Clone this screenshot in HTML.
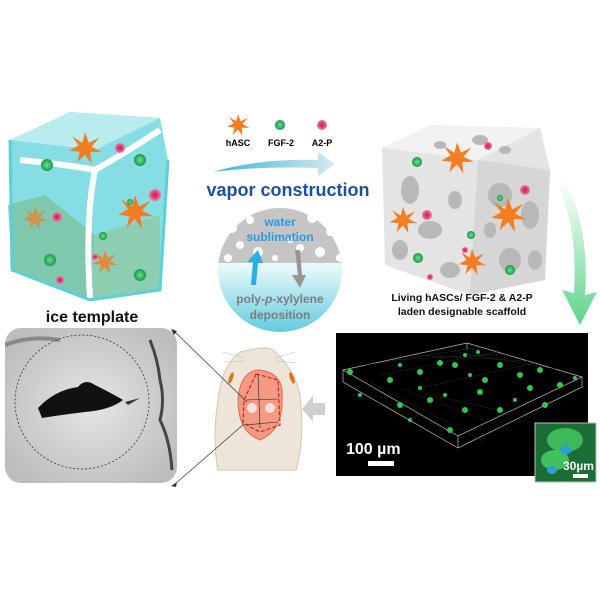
<!DOCTYPE html>
<html><head><meta charset="utf-8"><style>
body{margin:0;background:#fff;}
svg{display:block;font-family:"Liberation Sans",sans-serif;}
</style></head><body>
<svg width="600" height="600" viewBox="0 0 600 600">
<defs>
<linearGradient id="arr" x1="0" x2="1"><stop offset="0" stop-color="#3bb4d8"/><stop offset="1" stop-color="#d8e9ef"/></linearGradient>
<linearGradient id="garr" x1="0" y1="0" x2="0" y2="1"><stop offset="0" stop-color="#fff"/><stop offset="1" stop-color="#5fd38a"/></linearGradient>
<linearGradient id="water" x1="0" y1="0" x2="0" y2="1"><stop offset="0" stop-color="#eefbfd"/><stop offset="1" stop-color="#5cc9dd"/></linearGradient>
<radialGradient id="gr"><stop offset="0" stop-color="#6ee08a"/><stop offset="1" stop-color="#129a4a"/></radialGradient>
<radialGradient id="pk"><stop offset="0" stop-color="#d01050"/><stop offset="1" stop-color="#f07aa8"/></radialGradient>
<radialGradient id="gimg" cx="0.5" cy="0.5" r="0.6"><stop offset="0" stop-color="#e6e6e6"/><stop offset="1" stop-color="#bdbdbd"/></radialGradient>
<clipPath id="circ"><circle cx="280" cy="270" r="62"/></clipPath>
<clipPath id="gbox"><rect x="5" y="328" width="172" height="155" rx="16"/></clipPath>
<g id="star"><polygon points="0,-12 3,-4 11,-8 5,-1 13,3 4,3 5,12 0,5 -6,11 -4,3 -12,2 -5,-2 -10,-9 -2,-4" fill="#f57c20"/></g>
</defs>

<!-- ice cube -->
<polygon points="10,140 70,112 160,118 168,160 160,290 90,300 12,270" fill="#86dde3"/>
<polygon points="12,270 90,300 95,235 45,195 8,205" fill="#7cc4a0" opacity="0.8"/>
<polygon points="95,235 160,215 160,290 90,300" fill="#8ecaa6" opacity="0.8"/>
<polygon points="10,140 70,112 160,118 95,150" fill="#b9ecef"/>
<path d="M20,160 Q70,165 95,170 Q130,150 160,130 M95,170 Q85,220 90,298" stroke="#fff" stroke-width="6" fill="none"/>
<path d="M10,140 L12,270 L90,300 L160,290 L168,160" stroke="#5ccfd8" stroke-width="3" fill="none"/>
<use href="#star" transform="translate(85,148) scale(1.3)"/>
<use href="#star" transform="translate(135,212) scale(1.4)"/>
<use href="#star" transform="translate(35,218) scale(1)" opacity="0.7"/>
<use href="#star" transform="translate(105,262) scale(1)" opacity="0.8"/>
<circle cx="47" cy="165" r="6" fill="url(#gr)"/><circle cx="140" cy="160" r="6" fill="url(#gr)"/>
<circle cx="130" cy="202" r="3" fill="url(#gr)"/><circle cx="103" cy="236" r="4" fill="url(#gr)"/>
<circle cx="50" cy="260" r="6" fill="url(#gr)"/><circle cx="140" cy="275" r="6" fill="url(#gr)"/>
<circle cx="120" cy="148" r="5" fill="url(#pk)"/><circle cx="155" cy="195" r="6" fill="url(#pk)"/>
<circle cx="57" cy="217" r="5" fill="url(#pk)"/><circle cx="95" cy="257" r="3" fill="url(#pk)"/>
<circle cx="60" cy="280" r="4" fill="url(#pk)"/>
<text x="92" y="322" font-size="16" font-weight="bold" text-anchor="middle" fill="#111">ice template</text>

<!-- legend -->
<use href="#star" transform="translate(238,125) scale(0.9)"/>
<circle cx="280" cy="125" r="5" fill="url(#gr)"/><circle cx="322" cy="125" r="5" fill="url(#pk)"/>
<text x="238" y="146" font-size="9" font-weight="bold" text-anchor="middle">hASC</text>
<text x="281" y="146" font-size="9" font-weight="bold" text-anchor="middle">FGF-2</text>
<text x="322" y="146" font-size="9" font-weight="bold" text-anchor="middle">A2-P</text>
<path d="M213,172 Q260,158 318,160 L318,152 L335,164 L318,176 L318,168 Q260,166 213,172Z" fill="url(#arr)"/>
<text x="288" y="196" font-size="18" font-weight="bold" text-anchor="middle" fill="#1e4fa8">vapor construction</text>

<!-- circle -->
<g clip-path="url(#circ)">
<rect x="218" y="205" width="124" height="60" fill="#c5c5c5"/>
<g fill="#fff"><circle cx="232" cy="228" r="5"/><circle cx="250" cy="220" r="4"/><circle cx="312" cy="218" r="5"/><circle cx="330" cy="232" r="4"/><circle cx="240" cy="245" r="4"/><circle cx="258" cy="252" r="5"/><circle cx="300" cy="248" r="4"/><circle cx="320" cy="252" r="5"/><circle cx="228" cy="258" r="4"/><circle cx="340" cy="258" r="4"/><circle cx="275" cy="258" r="3"/><circle cx="290" cy="240" r="3"/></g>
<rect x="218" y="263" width="124" height="72" fill="url(#water)"/>
</g>
<text x="280" y="226" font-size="12" font-weight="bold" text-anchor="middle" fill="#2a9ae0">water</text>
<text x="280" y="241" font-size="12" font-weight="bold" text-anchor="middle" fill="#2a9ae0">sublimation</text>
<path d="M251,285 L253,262 L247,262 L258,250 L263,263 L258,263 L256,285Z" fill="#28b0e6"/>
<path d="M295,250 L298,275 L292,275 L300,288 L306,275 L302,275 L300,250Z" fill="#9a9490"/>
<text x="280" y="303" font-size="12" font-weight="bold" text-anchor="middle" fill="#7c7c7c">poly-<tspan font-style="italic">p</tspan>-xylylene</text>
<text x="280" y="319" font-size="12" font-weight="bold" text-anchor="middle" fill="#7c7c7c">deposition</text>

<!-- scaffold cube -->
<polygon points="382,148 430,125 540,128 550,170 545,280 470,295 385,265" fill="#e4e4e4"/>
<polygon points="382,148 430,125 540,128 478,160" fill="#f2f2f2"/>
<polygon points="478,160 550,170 545,280 470,295" fill="#d6d6d6"/>
<g fill="#b8b8b8"><ellipse cx="410" cy="190" rx="9" ry="14"/><ellipse cx="430" cy="230" rx="12" ry="9"/><ellipse cx="400" cy="250" rx="8" ry="10"/><ellipse cx="450" cy="270" rx="10" ry="8"/><ellipse cx="455" cy="200" rx="7" ry="9"/><ellipse cx="500" cy="195" rx="12" ry="12"/><ellipse cx="530" cy="215" rx="9" ry="14"/><ellipse cx="510" cy="260" rx="11" ry="12"/><ellipse cx="490" cy="230" rx="6" ry="8"/><ellipse cx="535" cy="260" rx="7" ry="10"/><ellipse cx="480" cy="140" rx="8" ry="5"/><ellipse cx="505" cy="150" rx="6" ry="4"/><ellipse cx="440" cy="145" rx="6" ry="4"/></g>
<use href="#star" transform="translate(457,158) scale(1.3)"/>
<use href="#star" transform="translate(403,220) scale(1.1)"/>
<use href="#star" transform="translate(508,215) scale(1.4)"/>
<use href="#star" transform="translate(472,262) scale(1.1)"/>
<circle cx="417" cy="162" r="5" fill="url(#gr)"/><circle cx="500" cy="198" r="3" fill="url(#gr)"/><circle cx="471" cy="235" r="4" fill="url(#gr)"/><circle cx="418" cy="258" r="5" fill="url(#gr)"/><circle cx="510" cy="270" r="5" fill="url(#gr)"/>
<circle cx="488" cy="146" r="4" fill="url(#pk)"/><circle cx="525" cy="190" r="5" fill="url(#pk)"/><circle cx="427" cy="215" r="5" fill="url(#pk)"/><circle cx="465" cy="250" r="3" fill="url(#pk)"/><circle cx="430" cy="277" r="3" fill="url(#pk)"/>
<text x="462" y="301" font-size="10.5" font-weight="bold" text-anchor="middle" fill="#111">Living hASCs/ FGF-2 &amp; A2-P</text>
<text x="462" y="315" font-size="10.5" font-weight="bold" text-anchor="middle" fill="#111">laden designable scaffold</text>
<path d="M565,180 Q590,230 585,295 L597,292 L580,325 L562,290 L574,293 Q578,230 558,185Z" fill="url(#garr)"/>

<!-- dark panel -->
<rect x="336" y="333" width="252" height="143" fill="#000"/>
<g stroke="#bbb" stroke-width="0.7" fill="none">
<polygon points="343,370 467,343 582,377 458,436"/>
<path d="M343,370 L343,382 L458,448 L582,387 L582,377 M458,436 L458,448 M467,343 L467,350"/>
</g>
<g stroke="#333" stroke-width="0.4">
<path d="M365,365 L480,347 M390,360 L505,354 M415,355 L530,361 M440,349 L556,369 M370,382 L485,442 M400,388 L510,430 M430,395 L535,418 M380,375 L500,351 M420,388 L540,362"/>
</g>
<g fill="#2ec84a">
<circle cx="350" cy="372" r="3"/><circle cx="390" cy="380" r="3"/><circle cx="400" cy="365" r="2"/><circle cx="420" cy="372" r="3"/><circle cx="440" cy="363" r="3"/><circle cx="455" cy="365" r="3"/><circle cx="465" cy="355" r="2"/><circle cx="478" cy="352" r="2"/><circle cx="500" cy="365" r="3"/><circle cx="520" cy="375" r="3"/><circle cx="540" cy="370" r="3"/><circle cx="560" cy="385" r="3"/><circle cx="575" cy="378" r="2"/><circle cx="430" cy="400" r="3"/><circle cx="445" cy="395" r="2"/><circle cx="465" cy="410" r="3"/><circle cx="480" cy="392" r="3"/><circle cx="500" cy="410" r="3"/><circle cx="515" cy="400" r="2"/><circle cx="530" cy="388" r="3"/><circle cx="545" cy="405" r="3"/><circle cx="400" cy="405" r="3"/><circle cx="410" cy="420" r="2"/><circle cx="450" cy="430" r="3"/><circle cx="485" cy="380" r="3"/><circle cx="420" cy="388" r="2"/><circle cx="470" cy="375" r="2"/><circle cx="360" cy="395" r="2"/>
</g>
<text x="346" y="454" font-size="16" font-weight="bold" fill="#fff">100 µm</text>
<rect x="368" y="461" width="26" height="5" fill="#fff"/>
<rect x="535" y="423" width="61" height="59" fill="#1b6e36" stroke="#bbb" stroke-width="1"/>
<ellipse cx="565" cy="440" rx="18" ry="12" fill="#3fb85a"/><ellipse cx="555" cy="460" rx="14" ry="10" fill="#42c060"/>
<ellipse cx="566" cy="450" rx="6" ry="4" fill="#2aa0d8"/><ellipse cx="552" cy="470" rx="5" ry="4" fill="#2aa0d8"/>
<text x="563" y="470" font-size="12" font-weight="bold" fill="#fff">30µm</text>
<rect x="573" y="474" width="15" height="4" fill="#fff"/>

<!-- gray arrow -->
<polygon points="325,403 313,403 313,396 302,409 313,422 313,415 325,415" fill="#cfcfcf"/>

<!-- rat -->
<path d="M250,350 Q270,345 275,352 Q295,370 300,395 Q305,440 296,470 L218,470 Q212,440 218,400 Q222,365 240,352Z" fill="#ece5d8" stroke="#d0c6b4"/>
<g stroke="#bbb" stroke-width="0.6" fill="none"><path d="M245,358 L222,352 M245,361 L224,362 M275,358 L295,352 M275,361 L297,363"/></g>
<ellipse cx="231" cy="378" rx="2" ry="6" fill="#e0721e" transform="rotate(20 231 378)"/><ellipse cx="292" cy="378" rx="2" ry="6" fill="#e0721e" transform="rotate(-20 292 378)"/>
<path d="M258,370 Q285,372 282,400 Q283,430 260,440 Q238,432 238,400 Q240,372 258,370Z" fill="#f49a82" stroke="#e06a55"/>
<path d="M256,374 L278,380 L280,425 L260,432 L243,423 L244,400Z" fill="none" stroke="#d42020" stroke-width="1.2" stroke-dasharray="4,2"/>
<circle cx="252" cy="408" r="5" fill="#f8e0dc"/><circle cx="270" cy="408" r="5" fill="#f8e0dc"/>
<path d="M258,374 L260,428 M246,400 L278,399 M245,425 L278,422" stroke="#222" stroke-width="0.6" fill="none"/>

<!-- gray image -->
<g clip-path="url(#gbox)">
<rect x="5" y="328" width="172" height="155" fill="url(#gimg)"/>
<path d="M38,408 Q55,390 78,387 Q85,378 95,385 Q115,395 123,400 Q110,410 85,412 Q60,415 42,418Z" fill="#111"/>
<path d="M125,402 L140,398 L128,405Z" fill="#333"/>
<path d="M150,340 Q158,360 160,380 Q165,400 160,420 Q170,440 172,470" stroke="#444" stroke-width="3" fill="none"/>
<path d="M5,345 Q30,335 60,340" stroke="#888" stroke-width="4" fill="none"/>
</g>
<circle cx="82" cy="402" r="67" fill="none" stroke="#333" stroke-width="0.8" stroke-dasharray="2,2"/>
<line x1="175" y1="332" x2="247" y2="402" stroke="#333" stroke-width="0.7"/>
<line x1="175" y1="484" x2="244" y2="424" stroke="#333" stroke-width="0.7"/>
<polygon points="171,329 177,331 174,335" fill="#333"/><polygon points="171,486 177,482 176,487" fill="#333"/>
</svg>
</body></html>
